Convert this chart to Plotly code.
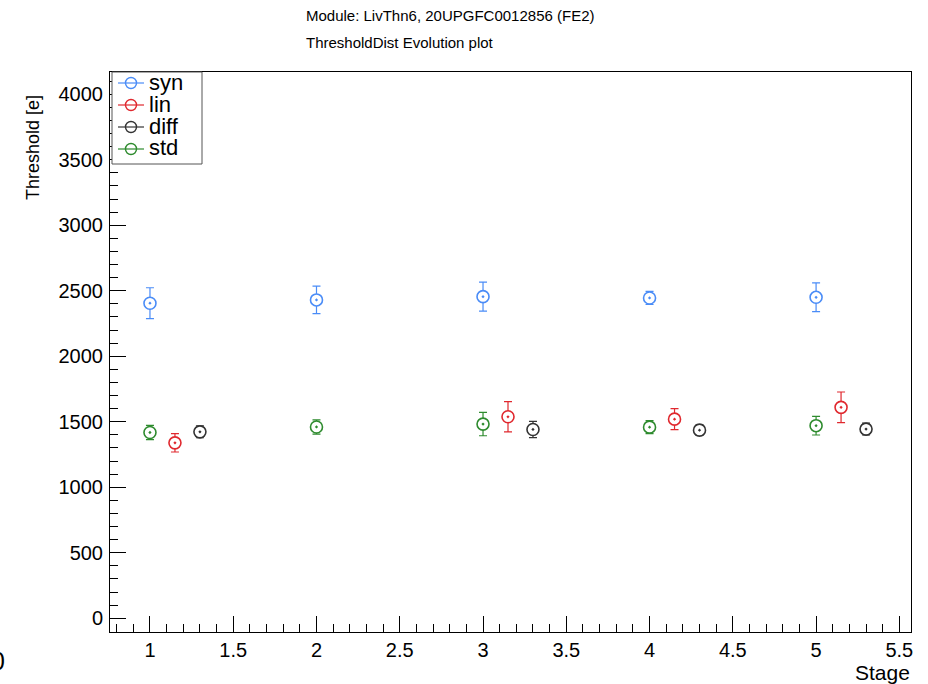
import plotly.graph_objects as go

# ---- data ----
series_names = ["syn", "lin", "diff", "std"]
series_colors = ["#4a8cf7", "#e0282e", "#333333", "#2e8b2e"]

syn_x = [1, 2, 3, 4, 5]
syn_y = [2405, 2430, 2455, 2445, 2450]
syn_err = [118, 105, 111, 50, 110]

lin_x = [1.15, 3.15, 4.15, 5.15]
lin_y = [1339, 1538, 1520, 1610]
lin_err = [70, 116, 80, 117]

diff_x = [1.3, 3.3, 4.3, 5.3]
diff_y = [1423, 1441, 1436, 1444]
diff_err = [45, 62, 40, 45]

std_x = [1, 2, 3, 4, 5]
std_y = [1418, 1460, 1482, 1459, 1470]
std_err = [55, 55, 89, 50, 71]

title_lines = ["Module: LivThn6, 20UPGFC0012856 (FE2)", "ThresholdDist Evolution plot"]
x_title = "Stage"
y_title = "Threshold [e]"

W, H = 928, 684
L, R, T, B = 110, 17, 72, 52
PW, PH = W - L - R, H - T - B
FONT = "Liberation Sans, Arial, sans-serif"

def px(xp):
    return (xp - L) / PW

def py(yp):
    return 1 - (yp - T) / PH

fig = go.Figure()
data = [(syn_x, syn_y, syn_err), (lin_x, lin_y, lin_err), (diff_x, diff_y, diff_err), (std_x, std_y, std_err)]
for name, color, (xs, ys, es) in zip(series_names, series_colors, data):
    fig.add_trace(go.Scatter(
        x=xs, y=ys, mode="markers", name=name, showlegend=False,
        error_y=dict(type="data", array=es, visible=True, color=color, thickness=1.2, width=4),
        marker=dict(symbol="circle-dot", size=12, color="white",
                    line=dict(color=color, width=1.6)),
    ))

annotations = [
    dict(text=title_lines[0], x=px(304), y=py(16), xref="paper", yref="paper",
         xanchor="left", yanchor="middle", showarrow=False, font=dict(size=15, color="black", family=FONT)),
    dict(text=title_lines[1], x=px(304), y=py(43), xref="paper", yref="paper",
         xanchor="left", yanchor="middle", showarrow=False, font=dict(size=15, color="black", family=FONT)),
    dict(text=y_title, x=px(33), y=py(148), xref="paper", yref="paper", textangle=-90,
         xanchor="center", yanchor="middle", showarrow=False, font=dict(size=18, color="black", family=FONT)),
    dict(text=x_title, x=px(912), y=py(672), xref="paper", yref="paper",
         xanchor="right", yanchor="middle", showarrow=False, font=dict(size=21, color="black", family=FONT)),
    dict(text="0", x=px(7), y=py(661), xref="paper", yref="paper",
         xanchor="right", yanchor="middle", showarrow=False, font=dict(size=25, color="black", family=FONT)),
]

# manual ROOT-style legend
shapes = [dict(type="rect", xref="paper", yref="paper", x0=px(112), x1=px(202), y0=py(164), y1=py(72),
               line=dict(color="#555555", width=1), fillcolor="white", layer="above")]
legend_y = [83, 105, 127, 149]
for name, color, yc in zip(series_names, series_colors, legend_y):
    shapes.append(dict(type="line", xref="paper", yref="paper", x0=px(118), x1=px(144),
                       y0=py(yc), y1=py(yc), line=dict(color=color, width=1.2), layer="above"))
    shapes.append(dict(type="circle", xref="paper", yref="paper", xsizemode="pixel", ysizemode="pixel",
                       xanchor=px(131), yanchor=py(yc), x0=-5.5, x1=5.5, y0=-5.5, y1=5.5,
                       line=dict(color=color, width=1.4), layer="above"))
    annotations.append(dict(text=name, x=px(147), y=py(yc - 1), xref="paper", yref="paper",
                            xanchor="left", yanchor="middle", showarrow=False,
                            font=dict(size=22, color="black", family=FONT)))

fig.update_layout(
    width=W, height=H,
    margin=dict(l=L, r=R, t=T, b=B),
    paper_bgcolor="white", plot_bgcolor="white",
    font=dict(family=FONT, size=20, color="black"),
    annotations=annotations, shapes=shapes, showlegend=False,
    xaxis=dict(range=[0.76, 5.57], dtick=0.5, tick0=0, ticks="inside", ticklen=16,
               tickcolor="black", tickwidth=1,
               minor=dict(dtick=0.1, ticks="inside", ticklen=8, tickcolor="black", tickwidth=1),
               showline=True, linecolor="black", linewidth=1, mirror=True,
               showgrid=False, zeroline=False, tickfont=dict(size=20), ticklabelstandoff=0),
    yaxis=dict(range=[-105, 4170], dtick=500, tick0=0, ticks="inside", ticklen=16,
               tickcolor="black", tickwidth=1,
               minor=dict(dtick=100, ticks="inside", ticklen=8, tickcolor="black", tickwidth=1),
               showline=True, linecolor="black", linewidth=1, mirror=True,
               showgrid=False, zeroline=False, tickfont=dict(size=20), ticklabelstandoff=2),
)

fig.write_html("out.html", config={"displayModeBar": False},
               post_script="document.body.style.margin='0';document.body.style.padding='0';")
